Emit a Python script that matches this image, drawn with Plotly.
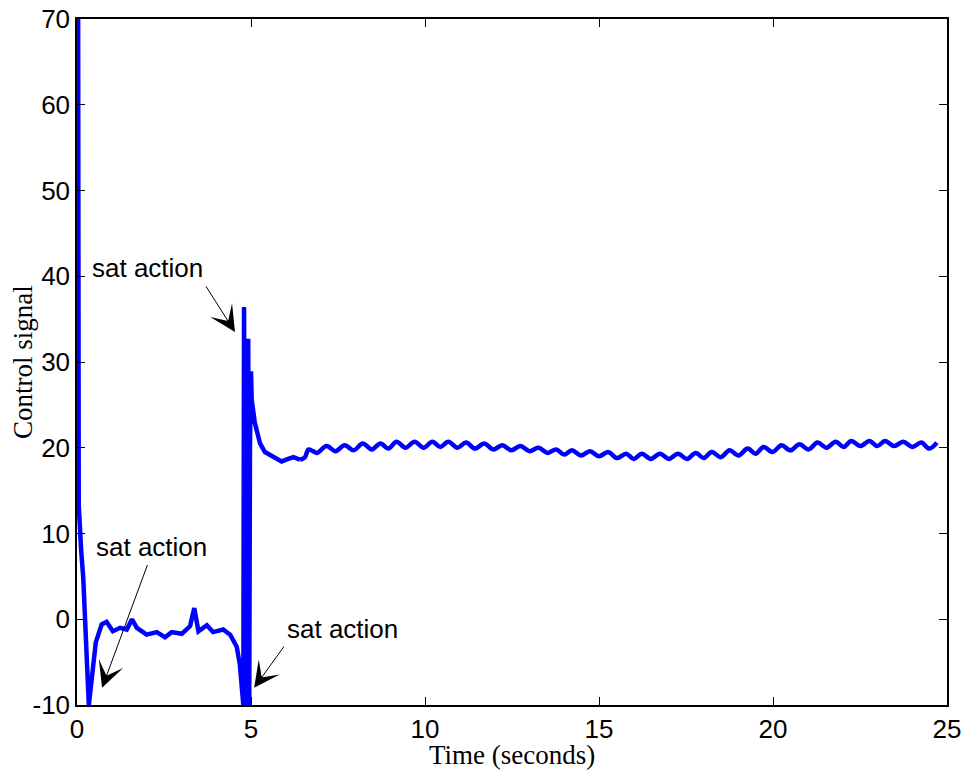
import plotly.graph_objects as go

# ---- data ----
# transient part
time_transient = [
    0.03, 0.035, 0.05, 0.12, 0.18, 0.34, 0.54, 0.71, 0.85, 1.03, 1.24, 1.43, 1.58,
    1.72, 2.0, 2.29, 2.53, 2.72, 3.01, 3.25, 3.37, 3.49, 3.73, 3.91, 4.2, 4.4, 4.59,
    4.68, 4.75, 4.78, 4.8, 4.82, 4.84, 4.87, 4.92, 4.94, 4.95, 4.97, 5.0, 5.02, 5.11,
    5.26, 5.4, 5.55, 5.69, 5.88, 6.07, 6.22, 6.41,
]
signal_transient = [
    80.0, 19.7, 13.3, 8.0, 4.8, -10.0, -2.7, -0.6, -0.3, -1.4, -1.0, -1.2, 0.0,
    -1.0, -1.8, -1.5, -2.1, -1.5, -1.7, -0.8, 1.3, -1.4, -0.7, -1.5, -1.2, -1.8, -3.2,
    -5.3, -10.0, -10.0, 36.4, -10.0, -10.0, 20.0, 32.7, -10.0, -10.0, 20.0, 28.9, 25.6, 22.9,
    20.5, 19.5, 19.2, 18.8, 18.4, 18.7, 18.9, 18.6,
]
# steady oscillating part
time_steady = [
    6.41, 6.55, 6.65, 6.78, 6.9,
    7.17, 7.43, 7.69, 7.95, 8.21, 8.47, 8.72, 8.95, 9.18, 9.44, 9.70, 9.96,
    10.21, 10.44, 10.67, 10.93, 11.18, 11.44, 11.70, 11.96, 12.22, 12.48, 12.74,
    13.0, 13.26, 13.52, 13.77, 14.0, 14.22, 14.48, 14.74, 15.0, 15.26, 15.52,
    15.78, 16.0, 16.23, 16.49, 16.75, 17.01, 17.27, 17.53, 17.78, 18.01, 18.24,
    18.5, 18.75, 19.01, 19.27, 19.5, 19.73, 19.99, 20.24, 20.5, 20.76, 21.02,
    21.28, 21.54, 21.8, 22.03, 22.25, 22.51, 22.77, 23.0, 23.22, 23.48, 23.74,
    24.0, 24.26, 24.49, 24.71,
]
signal_steady = [
    18.6, 18.9, 19.8, 19.6, 19.4,
    20.2, 19.6, 20.3, 19.7, 20.5, 19.8, 20.5, 19.9, 20.7, 20.0, 20.7, 20.0,
    20.7, 20.1, 20.7, 20.0, 20.6, 19.9, 20.5, 19.8, 20.3, 19.7, 20.2,
    19.6, 20.0, 19.4, 19.8, 19.2, 19.7, 19.1, 19.6, 19.0, 19.5, 18.8,
    19.3, 18.7, 19.3, 18.7, 19.3, 18.7, 19.3, 18.7, 19.4, 18.8, 19.5,
    18.9, 19.7, 19.1, 19.9, 19.3, 20.1, 19.5, 20.3, 19.7, 20.4, 19.8,
    20.6, 20.0, 20.7, 20.1, 20.8, 20.2, 20.8, 20.2, 20.8, 20.2, 20.7,
    20.1, 20.6, 19.9, 20.6,
]

x_ticks = [0, 5, 10, 15, 20, 25]
x_tick_labels = ["0", "5", "10", "15", "20", "25"]
y_ticks = [-10, 0, 10, 20, 30, 40, 50, 60, 70]
y_tick_labels = ["-10", "0", "10", "20", "30", "40", "50", "60", "70"]

x_title = "Time (seconds)"
y_title = "Control signal"

label_text = ["sat action", "sat action", "sat action"]
label_t = [2.03, 2.14, 7.64]
label_v = [41.0, 8.4, -1.1]
arrow_tail_t = [3.68, 2.04, 5.98]
arrow_tail_v = [39.0, 6.5, -3.0]
arrow_tip_t = [4.54, 0.72, 5.09]
arrow_tip_v = [33.5, -8.0, -8.0]

fig = go.Figure()
fig.add_trace(go.Scatter(
    x=time_transient, y=signal_transient, mode="lines",
    line=dict(color="#0000ff", width=4.5), showlegend=False,
))
fig.add_trace(go.Scatter(
    x=time_steady, y=signal_steady, mode="lines",
    line=dict(color="#0000ff", width=4.5, shape="spline", smoothing=1.0), showlegend=False,
))

title_font = dict(family="Liberation Serif, Times New Roman", size=27, color="black")
annotations = [
    dict(x=0.5, y=-0.073, xref="paper", yref="paper", text=x_title, showarrow=False,
         font=title_font, xanchor="center", yanchor="middle"),
    dict(x=-0.062, y=0.5, xref="paper", yref="paper", text=y_title, showarrow=False,
         font=title_font, xanchor="center", yanchor="middle", textangle=-90),
]
for txt, tx, tv in zip(label_text, label_t, label_v):
    annotations.append(dict(
        x=tx, y=tv, xref="x", yref="y", text=txt, showarrow=False,
        font=dict(family="Liberation Sans, Arial", size=26, color="black"),
        xanchor="center", yanchor="middle",
    ))
for at, av, pt, pv in zip(arrow_tail_t, arrow_tail_v, arrow_tip_t, arrow_tip_v):
    annotations.append(dict(
        x=pt, y=pv, xref="x", yref="y", ax=at, ay=av, axref="x", ayref="y",
        text="", showarrow=True, arrowhead=3, arrowsize=4.3, arrowwidth=1,
        arrowcolor="black", standoff=0, startstandoff=0,
    ))

axis_common = dict(
    showline=True, linecolor="black", linewidth=1.5, mirror="ticks",
    ticks="inside", ticklen=8, tickcolor="black", tickwidth=1,
    showgrid=False, zeroline=False, automargin=False,
    tickfont=dict(family="Liberation Sans, Arial", size=26, color="black"),
)

fig.update_layout(
    width=964, height=778,
    margin=dict(l=77, r=17, t=19, b=73),
    paper_bgcolor="white", plot_bgcolor="white",
    xaxis=dict(range=[0, 25], tickvals=x_ticks, ticktext=x_tick_labels, **axis_common),
    yaxis=dict(range=[-10, 70], tickvals=y_ticks, ticktext=y_tick_labels, **axis_common),
    annotations=annotations,
)

fig.write_html(
    "out.html",
    config={"displayModeBar": False},
    post_script="document.body.style.margin='0';document.body.style.overflow='hidden';",
)
